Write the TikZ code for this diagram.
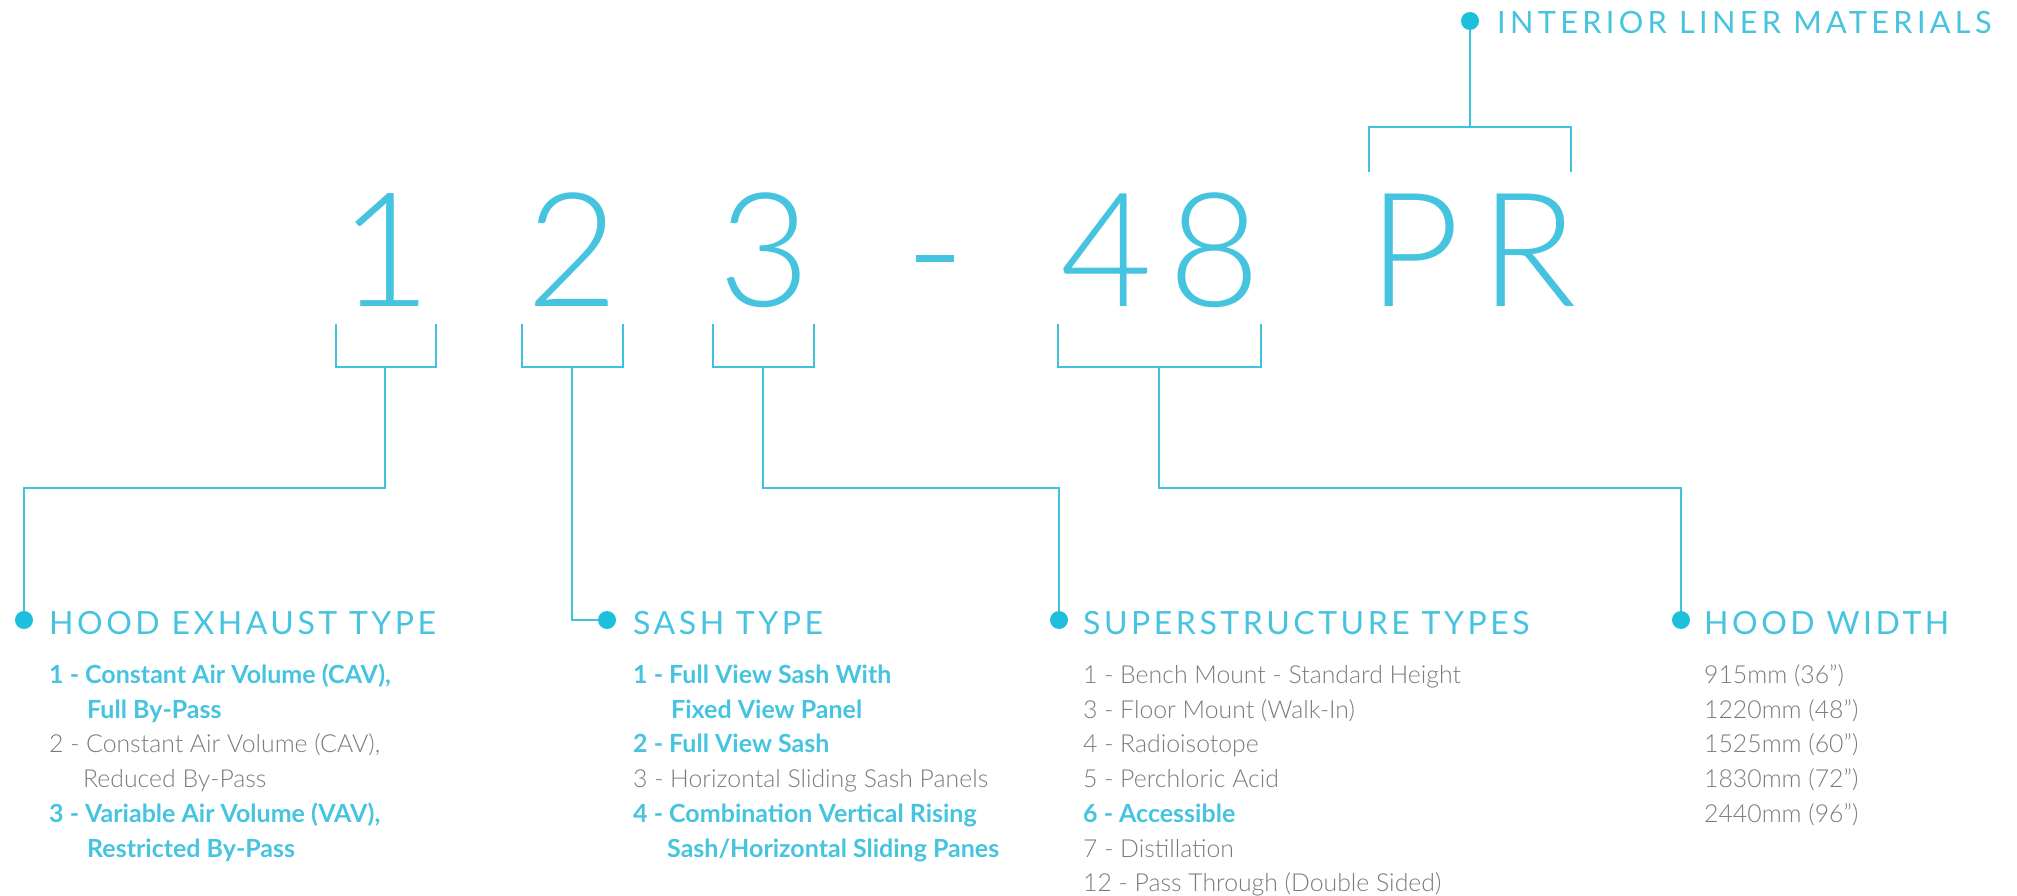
\documentclass[tikz,border=0pt]{standalone}
\usepackage{fontspec}
\IfFontExistsTF{Lato Light}{\newfontfamily\lightf{Lato Light}}{\newfontfamily\lightf{Lato}}
\IfFontExistsTF{Lato Light}{\newfontfamily\bigf{Lato Light}}{\newfontfamily\bigf{Lato}}
\newfontfamily\regf{Lato}
\newfontfamily\headf{Lato}[LetterSpace=11]
\newfontfamily\headg{Lato}[LetterSpace=14]
\definecolor{txtC}{HTML}{46C4DF}
\definecolor{dotC}{HTML}{1DBFDD}
\definecolor{lineC}{HTML}{3EC2DE}
\definecolor{greyC}{HTML}{7B7B7B}
\begin{document}
\begin{tikzpicture}[x=1pt,y=-1pt,
  ln/.style={draw=lineC, line width=1.6pt},
  dot/.style={circle, fill=dotC, inner sep=0pt, minimum size=18pt},
  big/.style={inner sep=0pt, anchor=base, text=txtC, font=\bigf\fontsize{159}{159}\selectfont},
  head/.style={inner sep=0pt, anchor=base west, text=txtC, font=\headf\fontsize{32}{32}\selectfont},
  hi/.style={inner sep=0pt, anchor=base west, text=txtC, font=\regf\bfseries\fontsize{25}{28}\selectfont},
  lo/.style={inner sep=0pt, anchor=base west, text=greyC, font=\lightf\fontsize{24.8}{28}\selectfont}]
\useasboundingbox (0,0) rectangle (2017,896);
% big code
\node[big] (n1) at (386,306) {1};
\node[big] (n2) at (573,306) {2};
\node[big] (n3) at (764.5,306) {3};
\node[big] (n4) at (1107,306) {4};
\node[big] (n8) at (1215,306) {8};
\node[big] (nP) at (1414,306) {P};
\node[big] (nR) at (1529,306) {R};
\node[fill=txtC, inner sep=0pt, minimum width=38pt, minimum height=7pt] (nd) at (935,258.5) {};
% brackets
\draw[ln] (336,324) |- (436,367) -- (436,324);
\draw[ln] (522,324) |- (623,367) -- (623,324);
\draw[ln] (713,324) |- (814,367) -- (814,324);
\draw[ln] (1058,324) |- (1261,367) -- (1261,324);
\draw[ln] (1369,172) |- (1571,127) -- (1571,172);
\coordinate (s1) at (385,367);
\coordinate (s2) at (572,367);
\coordinate (s3) at (763,367);
\coordinate (s4) at (1159,367);
\coordinate (s5) at (1470,127);
% dots
\node[dot] (d1) at (24,620) {};
\node[dot] (d2) at (607,620) {};
\node[dot] (d3) at (1059,620) {};
\node[dot] (d4) at (1681,620) {};
\node[dot] (d5) at (1470,21) {};
% connectors
\draw[ln] (s1) -- (385,488) -| (d1);
\draw[ln] (s2) |- (d2);
\draw[ln] (s3) -- (763,488) -| (d3);
\draw[ln] (s4) -- (1159,488) -| (d4);
\draw[ln] (s5) -- (d5);
% headings
\node[head] (h1) at (49,634) {HOOD EXHAUST TYPE};
\node[head] (h2) at (633,634) {SASH TYPE};
\node[head] (h3) at (1083,634) {SUPERSTRUCTURE TYPES};
\node[head] (h4) at (1704,634) {HOOD WIDTH};
\node[head, font=\headg\fontsize{30.7}{30.7}\selectfont] (h5) at (1497,34) {INTERIOR LINER MATERIALS};
% column 1
\node[hi] (a1) at (49,683.5) {1 - Constant Air Volume (CAV),};
\node[hi] (a2) at (87,718.2) {Full By-Pass};
\node[lo] (a3) at (49,752.9) {2 - Constant Air Volume (CAV),};
\node[lo] (a4) at (83,787.6) {Reduced By-Pass};
\node[hi] (a5) at (49,822.3) {3 - Variable Air Volume (VAV),};
\node[hi] (a6) at (87,857) {Restricted By-Pass};
% column 2
\node[hi] (b1) at (633,683.5) {1 - Full View Sash With};
\node[hi] (b2) at (671,718.2) {Fixed View Panel};
\node[hi] (b3) at (633,752.9) {2 - Full View Sash};
\node[lo] (b4) at (633,787.6) {3 - Horizontal Sliding Sash Panels};
\node[hi] (b5) at (633,822.3) {4 - Combination Vertical Rising};
\node[hi] (b6) at (667,857) {Sash/Horizontal Sliding Panes};
% column 3
\node[lo] (c1) at (1083,683.5) {1 - Bench Mount - Standard Height};
\node[lo] (c2) at (1083,718.2) {3 - Floor Mount (Walk-In)};
\node[lo] (c3) at (1083,752.9) {4 - Radioisotope};
\node[lo] (c4) at (1083,787.6) {5 - Perchloric Acid};
\node[hi] (c5) at (1083,822.3) {6 - Accessible};
\node[lo] (c6) at (1083,857) {7 - Distillation};
\node[lo] (c7) at (1083,891.7) {12 - Pass Through (Double Sided)};
% column 4
\node[lo] (e1) at (1704,683.5) {915mm (36”)};
\node[lo] (e2) at (1704,718.2) {1220mm (48”)};
\node[lo] (e3) at (1704,752.9) {1525mm (60”)};
\node[lo] (e4) at (1704,787.6) {1830mm (72”)};
\node[lo] (e5) at (1704,822.3) {2440mm (96”)};
\end{tikzpicture}
\end{document}
